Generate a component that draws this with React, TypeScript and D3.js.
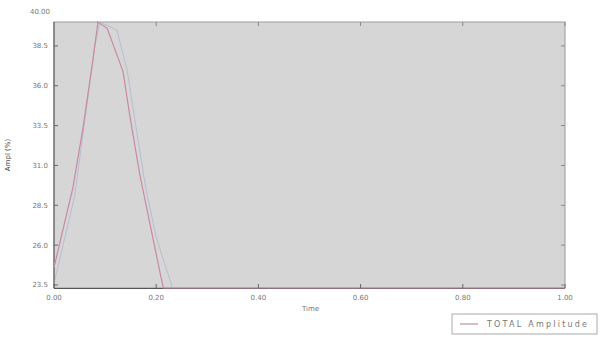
import * as d3 from 'd3';

// Values (estimated)
const redX = [0.0, 0.037, 0.057, 0.076, 0.086, 0.104, 0.135, 0.149, 0.168, 0.188, 0.208, 0.214, 1.0];
const redY = [24.6, 29.6, 33.4, 37.6, 40.0, 39.6, 36.9, 34.0, 30.4, 27.3, 24.2, 23.31, 23.31];
const greyX = [0.0, 0.04, 0.08, 0.09, 0.123, 0.143, 0.16, 0.18, 0.2, 0.22, 0.232, 1.0];
const greyY = [23.6, 29.0, 38.5, 40.0, 39.5, 37.0, 33.5, 29.5, 26.5, 24.5, 23.31, 23.31];

const xTicks = [0, 0.2, 0.4, 0.6, 0.8, 1.0];
const yTicks = [23.5, 26.0, 28.5, 31.0, 33.5, 36.0, 38.5];
const yTopLabel = '40.00';
const xTitle = 'Time';
const yTitle = 'Ampl (%)';
const legendLabel = 'TOTAL Amplitude';

const W = 603;
const H = 337;
const plot = { left: 54, right: 565, top: 22, bottom: 288 };

export default function App() {
  const x = d3.scaleLinear().domain([0, 1]).range([plot.left, plot.right]);
  const y = d3.scaleLinear().domain([23.31, 40.0]).range([plot.bottom, plot.top]);
  const line = d3.line<[number, number]>().x(d => x(d[0])).y(d => y(d[1]));
  const red = line(redX.map((v, i) => [v, redY[i]]) as [number, number][]) || '';
  const grey = line(greyX.map((v, i) => [v, greyY[i]]) as [number, number][]) || '';
  const font = 'DejaVu Sans, sans-serif';

  return (
    <svg width={W} height={H} style={{ position: 'absolute', left: 0, top: 0, background: '#fff' }}>
      <rect x={plot.left} y={plot.top} width={plot.right - plot.left} height={plot.bottom - plot.top}
        fill="#d6d6d6" stroke="#9a9a9a" strokeWidth={1} />
      <path d={grey} fill="none" stroke="#b9bdd0" strokeWidth={1} />
      {/* axes */}
      <line x1={plot.left} x2={plot.left} y1={plot.top} y2={plot.bottom} stroke="#555" />
      <line x1={plot.left} x2={plot.right} y1={plot.bottom + 0.5} y2={plot.bottom + 0.5} stroke="#555" strokeWidth={1} />
      <path d={red} fill="none" stroke="#c98aa0" strokeWidth={1.2} />
      {xTicks.map(t => (
        <g key={t}>
          <line x1={x(t)} x2={x(t)} y1={plot.bottom} y2={plot.bottom - 4} stroke="#666" />
          <line x1={x(t)} x2={x(t)} y1={plot.top} y2={plot.top + 4} stroke="#888" />
          <text x={x(t)} y={plot.bottom + 12} fontSize={7} fill="#777" textAnchor="middle" fontFamily={font}>
            {t.toFixed(2)}
          </text>
        </g>
      ))}
      {yTicks.map(t => (
        <g key={t}>
          <line x1={plot.left} x2={plot.left + 4} y1={y(t)} y2={y(t)} stroke="#666" />
          <line x1={plot.right} x2={plot.right - 4} y1={y(t)} y2={y(t)} stroke="#888" />
          <text x={plot.left - 6} y={y(t) + 2.5} fontSize={7} fill="#777" textAnchor="end" fontFamily={font}>
            {t.toFixed(1)}
          </text>
        </g>
      ))}
      <text x={plot.left - 4} y={plot.top - 8} fontSize={7} fill="#777" textAnchor="end" fontFamily={font}>
        {yTopLabel}
      </text>
      <text x={(plot.left + plot.right) / 2 + 1} y={311} fontSize={7} fill="#777" textAnchor="middle" fontFamily={font}>
        {xTitle}
      </text>
      <text transform={`translate(10,${(plot.top + plot.bottom) / 2}) rotate(-90)`} fontSize={7} fill="#444"
        textAnchor="middle" fontFamily={font}>
        {yTitle}
      </text>
      {/* legend */}
      <rect x={452} y={314} width={145} height={20} fill="#fff" stroke="#aaa" />
      <line x1={460} x2={478} y1={324} y2={324} stroke="#c98aa0" strokeWidth={1.2} />
      <text x={487} y={327} fontSize={8} fill="#777" fontFamily={font} textLength={100} lengthAdjust="spacing">
        {legendLabel}
      </text>
    </svg>
  );
}
